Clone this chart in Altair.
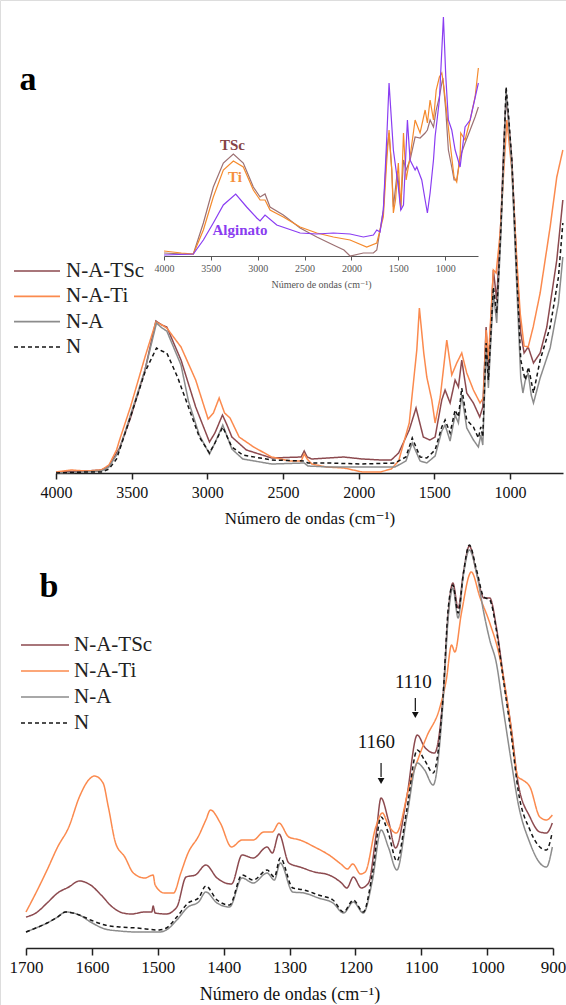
import altair as alt
import pandas as pd

FONT = "Liberation Serif, Times New Roman, DejaVu Serif, serif"
W, H = 566, 1005
AXIS_TITLE = "Número de ondas (cm⁻¹)"

SERIES = ["N-A-TSc", "N-A-Ti", "N-A", "N"]
COLORS = ["#8c4a4f", "#fb8a4e", "#8c8c8c", "#151515"]
DASHES = [[1, 0], [1, 0], [1, 0], [4, 3]]

INSET_SERIES = ["TSc", "Ti", "Alginato"]
INSET_COLORS = ["#9c7072", "#f58a2c", "#8a3df2"]
INSET_LABEL_COLORS = ["#864446", "#f59040", "#8a3df0"]

A_TICKS = [4000, 3500, 3000, 2500, 2000, 1500, 1000]
B_TICKS = [1700, 1600, 1500, 1400, 1300, 1200, 1100, 1000, 900]

# ---------------- panel a (absorbance, arbitrary units) ----------------
A_TSC_WN = [4000,3800,3700,3650,3600,3580,3508,3412,3340,3300,3268,3174,3077,2986,2950,2900,2870,2838,2742,2575,2380,2360,2340,2310,2200,2100,1977,1850,1785,1736,1666,1621,1573,1530,1495,1451,1429,1396,1363,1341,1319,1286,1242,1200,1180,1158,1143,1110,1088,1060,1039,1026,1011,988,955,929,907,880,845,801,757,691,651]
A_TSC = [1,2,3,7,20,25,55,103,152,148,146,113,66,31,40,58,48,36,23,15,16,22,16,14,15,16,14,13,13,20,43,65,36,33,36,73,83,70,93,86,113,80,70,56,66,146,103,203,173,253,336,375,355,313,206,140,120,126,110,120,146,213,273]

A_TI_WN = [4000,3900,3800,3700,3650,3600,3580,3508,3412,3340,3300,3268,3174,3077,2995,2960,2922,2886,2850,2790,2694,2575,2454,2380,2360,2340,2310,2215,2097,1977,1858,1785,1736,1666,1616,1599,1570,1550,1517,1495,1461,1418,1385,1352,1319,1286,1242,1198,1176,1158,1143,1110,1092,1065,1044,1021,988,955,933,907,880,847,801,735,691,651]
A_TI = [1,3,2,3,8,23,33,66,116,151,148,145,126,93,54,60,75,60,55,36,26,16,12,12,19,14,9,6,5,1,1,4,12,50,123,165,120,96,73,50,76,133,98,110,120,100,83,70,75,143,113,203,200,240,296,353,303,213,160,127,126,146,180,246,296,323]

A_NA_WN = [4000,3800,3700,3650,3600,3580,3508,3412,3336,3300,3268,3174,3125,3053,2986,2950,2898,2838,2766,2575,2360,2335,2200,1977,1760,1688,1646,1594,1550,1495,1451,1429,1396,1363,1341,1319,1286,1242,1209,1193,1180,1158,1143,1110,1088,1060,1039,1026,1011,988,955,929,915,900,880,860,845,801,735,680,651]
A_NA = [0,1,2,6,18,24,58,103,150,145,142,108,72,38,19,30,48,24,14,9,10,7,6,6,6,12,30,12,10,17,42,48,32,58,50,78,45,33,26,38,28,125,85,180,150,240,325,382,355,305,185,95,80,92,100,78,70,95,125,170,216]

A_N_WN = [4000,3800,3700,3650,3600,3580,3508,3412,3336,3300,3268,3197,3125,3053,2986,2950,2898,2838,2766,2575,2360,2335,2200,1977,1760,1688,1646,1594,1550,1495,1451,1429,1396,1363,1341,1319,1286,1242,1209,1193,1180,1158,1143,1110,1088,1060,1039,1026,1011,988,955,929,900,878,845,801,735,680,651]
A_N = [0,1,1,4,14,23,56,101,125,122,120,96,66,36,20,30,46,26,18,13,12,10,10,9,10,16,35,16,15,23,46,53,40,63,56,85,53,46,35,46,36,130,93,186,160,246,330,386,360,313,196,113,93,106,80,113,146,196,250]

# ---------------- inset (raw components) ----------------
IN_TSC_WN = [4000,3800,3687,3580,3474,3367,3260,3154,3047,2975,2922,2869,2727,2548,2370,2193,2080,2015,1873,1766,1730,1660,1623,1599,1570,1553,1510,1474,1445,1417,1375,1321,1268,1214,1190,1161,1125,1096,1062,1036,1025,994,966,930,905,877,841,788,734,681,646]
IN_TSC = [3,2,2,33,69,93,102,93,69,59,62,49,41,28,19,11,6,0,3,3,6,46,106,123,86,49,85,49,96,86,96,119,118,123,126,136,129,146,159,173,178,146,106,89,76,76,99,113,126,139,149]

IN_TI_WN = [4000,3815,3687,3580,3474,3367,3260,3154,3047,2975,2922,2869,2727,2548,2370,2193,2015,1837,1730,1660,1623,1599,1570,1553,1530,1500,1474,1445,1417,1375,1321,1268,1214,1190,1161,1125,1096,1062,1036,1019,983,948,905,877,841,834,788,734,681,646]
IN_TI = [5,3,2,26,59,86,95,89,66,56,56,46,39,29,23,19,16,9,13,39,96,126,86,43,56,93,46,123,76,99,136,123,146,133,156,136,166,179,183,173,143,113,79,74,99,123,116,136,159,188]

IN_ALG_WN = [4000,3687,3580,3474,3367,3235,3118,3010,2975,2922,2797,2548,2370,2193,2015,1873,1766,1730,1695,1660,1623,1599,1553,1500,1474,1445,1403,1375,1321,1303,1250,1214,1190,1161,1125,1107,1083,1062,1036,1019,994,966,930,894,841,788,734,646]
IN_ALG = [1,2,16,33,51,62,49,38,35,41,31,23,22,23,22,19,21,26,24,46,119,173,106,69,46,51,136,96,86,89,76,56,43,63,96,120,139,156,206,239,180,136,126,106,89,129,136,173]

INSET_LABEL_WN = [3270, 3242, 3189]
INSET_LABEL_V = [111, 79, 26]

# ---------------- panel b (zoom 1700-900) ----------------
B_TSC_WN = [1700,1685,1668,1652,1635,1619,1602,1586,1569,1553,1540,1520,1509,1507,1504,1487,1471,1457,1443,1427,1410,1388,1372,1355,1334,1326,1316,1301,1284,1262,1240,1221,1213,1203,1191,1180,1169,1161,1150,1139,1122,1106,1095,1080,1067,1059,1052,1044,1036,1027,1016,1005,996,986,976,963,953,935,920,910,901]
B_TSC = [31,35,45,55,61,67,63,53,41,35,34,36,36,42,35,34,41,71,73,83,70,64,93,90,101,95,114,85,81,76,73,65,60,71,60,65,111,150,128,100,151,213,201,195,251,335,365,340,375,402,375,350,350,321,275,218,165,131,116,115,125]

B_TI_WN = [1700,1685,1668,1652,1635,1619,1605,1596,1583,1575,1564,1550,1537,1520,1507,1504,1490,1476,1465,1454,1438,1427,1420,1405,1388,1372,1355,1339,1326,1316,1301,1284,1262,1240,1222,1212,1204,1192,1185,1169,1159,1150,1138,1117,1092,1072,1062,1054,1049,1039,1024,1011,996,981,966,953,946,935,920,910,901]
B_TI = [36,55,78,101,121,151,168,172,165,141,105,91,75,70,73,63,55,55,75,95,112,128,138,125,101,108,108,116,116,125,111,108,101,93,84,79,84,74,76,121,135,123,115,165,211,240,268,303,296,335,376,351,325,291,231,171,168,161,131,128,133]

B_N_WN = [1700,1685,1668,1652,1640,1619,1602,1580,1558,1531,1498,1487,1471,1454,1438,1427,1410,1391,1372,1355,1334,1323,1314,1295,1278,1256,1234,1218,1203,1188,1174,1161,1150,1137,1122,1106,1095,1082,1067,1059,1052,1044,1036,1027,1016,1005,996,986,976,963,953,935,920,910,901]
B_N = [16,20,25,31,36,33,28,23,21,20,18,20,31,45,50,62,48,43,73,68,78,71,90,60,58,53,48,36,48,36,75,131,115,87,138,198,188,175,251,340,363,335,375,403,378,351,348,318,271,211,158,118,101,98,116]
B_NA = [16,20,25,31,36,33,26,19,17,16,16,18,28,41,46,56,45,41,70,65,75,68,85,56,55,50,45,35,46,35,68,118,101,78,131,185,178,163,245,331,360,330,373,398,375,335,308,285,241,185,145,105,85,81,101]

ANN_LABELS = ["1160", "1110"]
ANN_TEXT_WN = [1168, 1112]
ANN_TEXT_V = [206, 266]
ANN_ARROW_WN = [1161, 1109]
ANN_SHAFT_TOP = [185, 250]
ANN_SHAFT_BOTTOM = [171, 237]
ANN_HEAD_V = [167, 233]


def long_frame(names, wns, vals):
    rows = []
    for name, w, v in zip(names, wns, vals):
        assert len(w) == len(v), name
        rows += [{"s": name, "wn": a, "v": b} for a, b in zip(w, v)]
    return pd.DataFrame(rows)


a_df = long_frame(SERIES, [A_TSC_WN, A_TI_WN, A_NA_WN, A_N_WN], [A_TSC, A_TI, A_NA, A_N])
in_df = long_frame(INSET_SERIES, [IN_TSC_WN, IN_TI_WN, IN_ALG_WN], [IN_TSC, IN_TI, IN_ALG])
b_df = long_frame(SERIES, [B_TSC_WN, B_TI_WN, B_N_WN, B_N_WN], [B_TSC, B_TI, B_NA, B_N])

# scales (explicit pixel ranges inside one 566x1005 canvas)
XA = alt.Scale(domain=[4000, 650], range=[56, 563], nice=False, zero=False)
YA = alt.Scale(domain=[0, 400], range=[473, 73], nice=False, zero=False)
XI = alt.Scale(domain=[4000, 650], range=[164, 478], nice=False, zero=False)
YI = alt.Scale(domain=[0, 240], range=[256, 16], nice=False, zero=False)
XB = alt.Scale(domain=[1700, 900], range=[26, 553], nice=False, zero=False)
YB = alt.Scale(domain=[0, 410], range=[948, 538], nice=False, zero=False)

color_main = alt.Color("s:N", scale=alt.Scale(domain=SERIES, range=COLORS), legend=None)
dash_main = alt.StrokeDash("s:N", scale=alt.Scale(domain=SERIES, range=DASHES), legend=None)

common_axis = dict(grid=False, format="d", labelFont=FONT, titleFont=FONT,
                   titleFontWeight="normal", labelFlush=False, labelOverlap=False,
                   title=AXIS_TITLE)

axis_a = alt.Axis(orient="bottom", offset=473 - H, values=A_TICKS, tickSize=6,
                  domainWidth=1.5, tickWidth=1.5, domainColor="#222", tickColor="#222",
                  labelColor="#111", titleColor="#111", labelFontSize=16, labelPadding=5,
                  titleFontSize=17, titlePadding=10, **common_axis)
axis_i = alt.Axis(orient="bottom", offset=256 - H, values=A_TICKS, tickSize=4,
                  domainWidth=1, tickWidth=1, domainColor="#555", tickColor="#555",
                  labelColor="#555", titleColor="#555", labelFontSize=10, labelPadding=3,
                  titleFontSize=10, titlePadding=6, **common_axis)
axis_b = alt.Axis(orient="bottom", offset=948 - H, values=B_TICKS, tickSize=7,
                  domainWidth=1.5, tickWidth=1.5, domainColor="#222", tickColor="#222",
                  labelColor="#111", titleColor="#111", labelFontSize=17, labelPadding=4,
                  titleFontSize=18, titlePadding=10, **common_axis)

panel_a = alt.Chart(a_df).mark_line(strokeWidth=1.5).encode(
    x=alt.X("wn:Q", scale=XA, axis=axis_a),
    y=alt.Y("v:Q", scale=YA, axis=None),
    color=color_main, strokeDash=dash_main,
)

inset = alt.Chart(in_df).mark_line(strokeWidth=1.2).encode(
    x=alt.X("wn:Q", scale=XI, axis=axis_i),
    y=alt.Y("v:Q", scale=YI, axis=None),
    color=alt.Color("s:N", scale=alt.Scale(domain=INSET_SERIES, range=INSET_COLORS), legend=None),
)

inset_labels = alt.Chart(pd.DataFrame({"s": INSET_SERIES, "wn": INSET_LABEL_WN, "v": INSET_LABEL_V})).mark_text(
    font=FONT, fontWeight="bold", fontSize=15, align="center", baseline="middle"
).encode(
    x=alt.X("wn:Q", scale=XI, axis=None),
    y=alt.Y("v:Q", scale=YI, axis=None),
    text="s:N",
    color=alt.Color("s:N", scale=alt.Scale(domain=INSET_SERIES, range=INSET_LABEL_COLORS), legend=None),
)

panel_b = alt.Chart(b_df).mark_line(strokeWidth=1.5, interpolate="monotone").encode(
    x=alt.X("wn:Q", scale=XB, axis=axis_b),
    y=alt.Y("v:Q", scale=YB, axis=None),
    color=color_main, strokeDash=dash_main,
)

ann_df = pd.DataFrame({
    "label": ANN_LABELS, "twn": ANN_TEXT_WN, "tv": ANN_TEXT_V, "awn": ANN_ARROW_WN,
    "top": ANN_SHAFT_TOP, "bot": ANN_SHAFT_BOTTOM, "head": ANN_HEAD_V,
})
ann_text = alt.Chart(ann_df).mark_text(font=FONT, fontSize=19, color="#111", baseline="middle").encode(
    x=alt.X("twn:Q", scale=XB, axis=None), y=alt.Y("tv:Q", scale=YB, axis=None), text="label:N")
ann_shaft = alt.Chart(ann_df).mark_rule(strokeWidth=1.2, color="#111").encode(
    x=alt.X("awn:Q", scale=XB, axis=None), y=alt.Y("top:Q", scale=YB, axis=None), y2="bot:Q")
ann_head = alt.Chart(ann_df).mark_point(shape="triangle-down", filled=True, size=45, color="#111", opacity=1).encode(
    x=alt.X("awn:Q", scale=XB, axis=None), y=alt.Y("head:Q", scale=YB, axis=None))


def legend_layers(y_top, y_bot, x0, x1, xt):
    leg = pd.DataFrame({"s": SERIES})
    ys = alt.Y("s:N", scale=alt.Scale(type="point", domain=SERIES, range=[y_top, y_bot], padding=0), axis=None)
    rules = alt.Chart(leg).mark_rule(strokeWidth=1.6).encode(
        y=ys, x=alt.value(x0), x2=alt.value(x1), color=color_main, strokeDash=dash_main)
    texts = alt.Chart(leg).mark_text(font=FONT, fontSize=21, color="#222", align="left", baseline="middle").encode(
        y=ys, x=alt.value(xt), text="s:N")
    return [rules, texts]


leg_a = legend_layers(271, 347, 14, 60, 66)
leg_b = legend_layers(645, 723, 21, 69, 74)

lab_a = alt.Chart(pd.DataFrame({"t": ["a"]})).mark_text(
    font=FONT, fontWeight="bold", fontSize=34, align="center", baseline="alphabetic", color="#000"
).encode(x=alt.value(28), y=alt.value(90), text="t:N")
lab_b = alt.Chart(pd.DataFrame({"t": ["b"]})).mark_text(
    font=FONT, fontWeight="bold", fontSize=34, align="center", baseline="alphabetic", color="#000"
).encode(x=alt.value(49), y=alt.value(597), text="t:N")

chart = alt.layer(
    panel_a, *leg_a, inset, inset_labels, panel_b, ann_text, ann_shaft, ann_head, *leg_b, lab_a, lab_b
).resolve_scale(
    x="independent", y="independent", color="independent", strokeDash="independent"
).properties(
    width=W, height=H, padding=0, autosize="none"
).configure_view(stroke=None).configure(background="white")

chart.save("out.html", embed_options={"renderer": "svg", "actions": False})
